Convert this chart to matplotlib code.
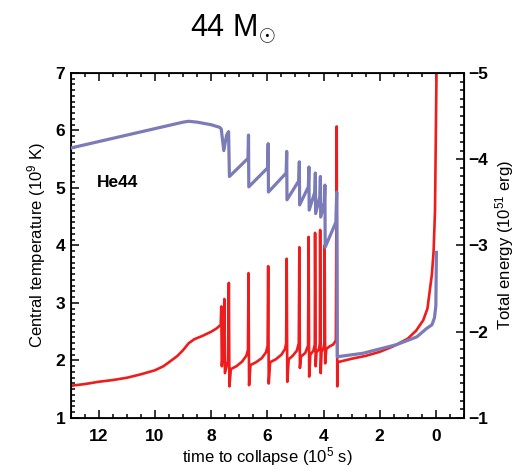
import matplotlib
matplotlib.use("Agg")
import matplotlib.pyplot as plt
from matplotlib.ticker import MultipleLocator

plt.rcParams["font.family"] = ["Liberation Sans", "DejaVu Sans"]
plt.rcParams["mathtext.fontset"] = "custom"
plt.rcParams["mathtext.rm"] = "Liberation Sans"
plt.rcParams["mathtext.it"] = "Liberation Sans:italic"

# central temperature (1e9 K) vs time to collapse (1e5 s)
temp_time = [
    13.0, 12.5, 12.0, 11.5, 11.0, 10.5, 10.0, 9.7, 9.5, 9.2, 9.0, 8.8, 8.6, 8.3, 8.0, 7.8, 7.66,
    7.64, 7.62, 7.56, 7.53, 7.51, 7.40, 7.37, 7.35,
    7.30, 7.1, 6.9, 6.75, 6.69, 6.67, 6.65,
    6.60, 6.4, 6.2, 6.05, 5.99, 5.97, 5.95,
    5.90, 5.7, 5.5, 5.37, 5.33, 5.31, 5.29,
    5.24, 5.1, 4.95, 4.88, 4.86, 4.84,
    4.80, 4.65, 4.55, 4.53, 4.51,
    4.47, 4.36, 4.31, 4.30, 4.28,
    4.25, 4.16, 4.13, 4.12, 4.10,
    4.07, 4.00, 3.97, 3.96, 3.94,
    3.90, 3.8, 3.65, 3.56, 3.53, 3.51,
    3.50, 3.0, 2.5, 2.0, 1.5, 1.0, 0.7, 0.45, 0.3, 0.14, 0.08, 0.03, -0.03,
]
temp_vals = [
    1.56, 1.59, 1.63, 1.66, 1.70, 1.76, 1.83, 1.90, 1.97, 2.08, 2.18, 2.30, 2.37, 2.43, 2.50, 2.56, 2.62,
    2.94, 1.90, 2.30, 3.07, 1.78, 2.00, 3.35, 1.55,
    1.85, 1.90, 1.98, 2.08, 2.18, 3.52, 1.57,
    1.92, 1.97, 2.04, 2.14, 2.25, 3.64, 1.60,
    1.97, 2.02, 2.10, 2.20, 2.30, 3.77, 1.63,
    2.02, 2.08, 2.17, 2.30, 3.97, 1.87,
    2.07, 2.13, 2.26, 4.15, 1.72,
    2.10, 2.17, 2.28, 4.22, 1.90,
    2.14, 2.20, 2.30, 4.27, 1.78,
    2.15, 2.22, 2.30, 4.00, 1.95,
    2.20, 2.24, 2.28, 2.35, 6.07, 1.55,
    1.97, 2.03, 2.08, 2.15, 2.25, 2.38, 2.52, 2.70, 2.90, 3.50, 3.90, 4.60, 7.30,
]

# total energy (1e51 erg)
energy_time = [
    13.0, 11.0, 9.0, 8.8, 8.5, 8.0, 7.7, 7.64, 7.55, 7.45, 7.38, 7.35,
    6.69, 6.67, 6.66,
    5.99, 5.97, 5.96,
    5.33, 5.31, 5.30,
    4.88, 4.86, 4.85,
    4.54, 4.52, 4.51,
    4.31, 4.29, 4.28,
    4.13, 4.11, 4.10,
    3.97, 3.95, 3.94,
    3.56, 3.53, 3.51,
    2.6, 1.4, 0.68, 0.32, 0.14, 0.05, 0.0, -0.02,
]
energy_vals = [
    -4.13, -4.28, -4.43, -4.44, -4.43, -4.40, -4.37, -4.35, -4.10, -4.28, -4.32, -3.80,
    -4.01, -4.28, -3.68,
    -3.90, -4.18, -3.62,
    -3.84, -4.09, -3.53,
    -3.75, -3.97, -3.47,
    -3.68, -3.91, -3.41,
    -3.62, -3.84, -3.37,
    -3.57, -3.80, -3.33,
    -3.50, -3.70, -2.98,
    -3.27, -3.62, -1.71,
    -1.75, -1.85, -1.94, -2.04, -2.08, -2.16, -2.30, -2.92,
]

x_ticks = [12, 10, 8, 6, 4, 2, 0]
temp_ticks = [1, 2, 3, 4, 5, 6, 7]
energy_ticks = [-5, -4, -3, -2, -1]

fig = plt.figure(figsize=(5.29, 4.73), dpi=100)
ax = fig.add_axes([0.1337, 0.1163, 0.7433, 0.7294])
ax2 = ax.twinx()

ax.plot(temp_time, temp_vals, color="#EE1C1C", linewidth=1.9, zorder=2)
ax2.plot(energy_time, energy_vals, color="#7B7BB8", linewidth=2.3, zorder=3)

ax.set_xlim(13, -1)
ax.set_ylim(1, 7)
ax2.set_ylim(-1, -5)

ax.set_xticks(x_ticks)
ax.set_yticks(temp_ticks)
ax2.set_yticks(energy_ticks)
ax.xaxis.set_minor_locator(MultipleLocator(0.5))
ax.yaxis.set_minor_locator(MultipleLocator(0.1))
ax2.yaxis.set_minor_locator(MultipleLocator(0.1))

ax.tick_params(which="both", direction="in", top=True, right=False, width=1.1)
ax.tick_params(which="major", length=5.5)
ax.tick_params(which="minor", length=3)
ax.tick_params(axis="x", pad=8)
ax.tick_params(axis="y", pad=4)
ax2.tick_params(which="both", direction="in", width=1.1, pad=3)
ax2.tick_params(which="major", length=5.5)
ax2.tick_params(which="minor", length=3)

for lab in ax.get_xticklabels() + ax.get_yticklabels() + ax2.get_yticklabels():
    lab.set_fontsize(12.5)
    lab.set_fontweight("bold")

for spine in ax2.spines.values():
    spine.set_linewidth(1.3)

ax.set_xlabel("time to collapse (10$^5$ s)", fontsize=12, labelpad=1)
ax.set_ylabel("Central temperature (10$^9$ K)", fontsize=12, labelpad=5)
ax2.set_ylabel("Total energy (10$^{51}$ erg)", fontsize=12, labelpad=4)

ax.text(12.06, 5.02, "He44", fontsize=12.5, fontweight="bold")
fig.text(0.44, 0.94, r"44 M$_{\odot}$", fontsize=22, ha="center", va="center")

fig.savefig("out.png", dpi=100)
